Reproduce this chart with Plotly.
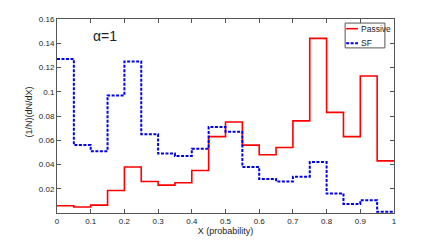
import plotly.graph_objects as go

bin_edges = [0.0, 0.05, 0.1, 0.15, 0.2, 0.25, 0.3, 0.35, 0.4, 0.45,
             0.5, 0.55, 0.6, 0.65, 0.7, 0.75, 0.8, 0.85, 0.9, 0.95, 1.0]
passive = [0.006, 0.005, 0.0065, 0.0185, 0.038, 0.026, 0.023, 0.025, 0.035, 0.063,
           0.075, 0.056, 0.048, 0.054, 0.076, 0.144, 0.083, 0.063, 0.113, 0.043]
sf = [0.127, 0.056, 0.051, 0.097, 0.125, 0.065, 0.049, 0.047, 0.053, 0.071,
      0.067, 0.038, 0.028, 0.026, 0.030, 0.042, 0.016, 0.0074, 0.0105, 0.001]
x_ticks = [0, 0.1, 0.2, 0.3, 0.4, 0.5, 0.6, 0.7, 0.8, 0.9, 1]
x_tick_labels = ["0", "0.1", "0.2", "0.3", "0.4", "0.5", "0.6", "0.7", "0.8", "0.9", "1"]
y_ticks = [0.02, 0.04, 0.06, 0.08, 0.1, 0.12, 0.14, 0.16]
y_tick_labels = ["0.02", "0.04", "0.06", "0.08", "0.1", "0.12", "0.14", "0.16"]

FONT = "Arial, Liberation Sans, sans-serif"

fig = go.Figure()
fig.add_trace(go.Scatter(x=bin_edges, y=passive + [passive[-1]], mode="lines",
                         line=dict(color="#ff0000", width=1.6, shape="hv"),
                         name="Passive", showlegend=False))
fig.add_trace(go.Scatter(x=bin_edges, y=sf + [sf[-1]], mode="lines",
                         line=dict(color="#0000ee", width=2, shape="hv", dash="3px,1.5px"),
                         name="SF", showlegend=False))

axis_common = dict(showline=True, linecolor="#555555", linewidth=1, mirror="ticks",
                   ticks="inside", ticklen=4, tickcolor="#555555", showgrid=False,
                   zeroline=False, automargin=False,
                   tickfont=dict(family=FONT, size=8, color="#222222"))
fig.update_xaxes(range=[0, 1], tickvals=x_ticks, ticktext=x_tick_labels,
                 title=dict(text="X (probability)", font=dict(family=FONT, size=9, color="#222222"),
                            standoff=0), **axis_common)
fig.update_yaxes(range=[0, 0.16], tickvals=y_ticks, ticktext=y_tick_labels, **axis_common)

# manual legend
shapes = [
    dict(type="rect", xref="paper", yref="paper", x0=0.855, x1=0.973, y0=0.851, y1=0.979,
         line=dict(color="#555555", width=1), fillcolor="white", layer="above"),
    dict(type="line", xref="paper", yref="paper", x0=0.858, x1=0.893, y0=0.950, y1=0.950,
         line=dict(color="#ff0000", width=1.6)),
    dict(type="line", xref="paper", yref="paper", x0=0.858, x1=0.893, y0=0.875, y1=0.875,
         line=dict(color="#0000ee", width=2, dash="3px,1.5px")),
]
annotations = [
    dict(text="Passive", xref="paper", yref="paper", x=0.895, y=0.950, xanchor="left",
         yanchor="middle", showarrow=False, font=dict(family=FONT, size=8.5, color="#222222")),
    dict(text="SF", xref="paper", yref="paper", x=0.895, y=0.875, xanchor="left",
         yanchor="middle", showarrow=False, font=dict(family=FONT, size=8.5, color="#222222")),
    dict(text="α=1", xref="paper", yref="paper", x=0.142, y=0.912, xanchor="center",
         yanchor="middle", showarrow=False, font=dict(family=FONT, size=14, color="#222222")),
    dict(text="(1/N)(dN/dX)", xref="paper", yref="paper", x=-0.082, y=0.52, xanchor="center",
         yanchor="middle", textangle=-90, showarrow=False,
         font=dict(family=FONT, size=9, color="#222222")),
]

fig.update_layout(width=436, height=240, margin=dict(l=57, r=42, t=19, b=27, autoexpand=False),
                  paper_bgcolor="white", plot_bgcolor="white",
                  shapes=shapes, annotations=annotations, showlegend=False)
fig.write_html("out.html", config={"displayModeBar": False},
               post_script="document.body.style.margin='0';document.body.style.padding='0';")
